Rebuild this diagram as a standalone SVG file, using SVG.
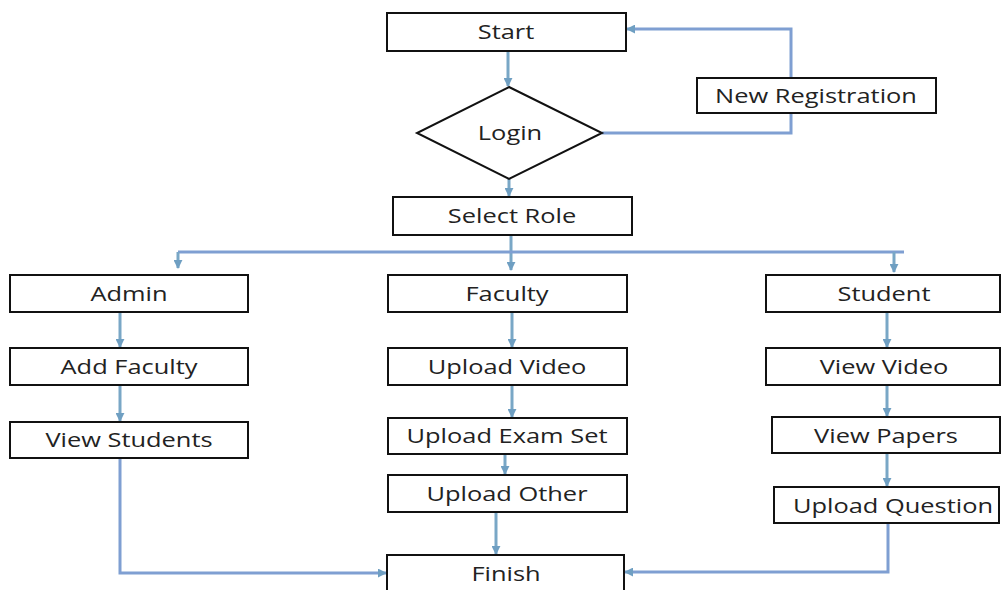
<svg xmlns="http://www.w3.org/2000/svg" width="1002" height="590" viewBox="0 0 1002 590">
<style>
.box{fill:#fff;stroke:#111;stroke-width:2}
.t{font-family:"Open Sans","Liberation Sans",sans-serif;font-size:20px;fill:#222;text-anchor:middle}
.c{fill:none;stroke:#7f9fd2;stroke-width:3}
.a{fill:none;stroke:#79a7c6;stroke-width:3}
</style>
<defs>
<marker id="ah" viewBox="0 0 10 10" refX="9" refY="5" markerWidth="9" markerHeight="9" markerUnits="userSpaceOnUse" orient="auto">
<path d="M0,0 L10,5 L0,10 z" fill="#6f9fc2"/>
</marker>
</defs>
<rect width="1002" height="590" fill="#fff"/>
<g id="connectors">
<path class="a" d="M508,51 V86" marker-end="url(#ah)"/>
<path class="c" d="M602,133 H791 V113"/>
<path class="c" d="M791,78 V29 H627" marker-end="url(#ah)"/>
<path class="a" d="M509,179 V196" marker-end="url(#ah)"/>
<path class="a" d="M511,235 V270" marker-end="url(#ah)"/>
<path class="c" d="M178,252 H904"/>
<path class="a" d="M178,252 V268" marker-end="url(#ah)"/>
<path class="a" d="M894,252 V272" marker-end="url(#ah)"/>
<path class="a" d="M120,312 V347" marker-end="url(#ah)"/>
<path class="a" d="M120,385 V421" marker-end="url(#ah)"/>
<path class="a" d="M512,312 V347" marker-end="url(#ah)"/>
<path class="a" d="M512,385 V417" marker-end="url(#ah)"/>
<path class="a" d="M505,446 V474" marker-end="url(#ah)"/>
<path class="a" d="M496,512 V554" marker-end="url(#ah)"/>
<path class="a" d="M887,312 V347" marker-end="url(#ah)"/>
<path class="a" d="M887,385 V416" marker-end="url(#ah)"/>
<path class="a" d="M887,453 V486" marker-end="url(#ah)"/>
<path class="c" d="M120,458 V573 H386" marker-end="url(#ah)"/>
<path class="c" d="M888,523 V572 H625" marker-end="url(#ah)"/>
</g>
<g id="start"><rect class="box" x="387" y="13" width="239" height="38"/><text class="t" transform="translate(506,39) scale(1.27,1)">Start</text></g>
<g id="login"><path class="box" d="M509,87 L602,133 L509,179 L417,133 Z"/><text class="t" transform="translate(510,140) scale(1.27,1)">Login</text></g>
<g id="new-registration"><rect class="box" x="697" y="78" width="239" height="35"/><text class="t" transform="translate(816,103) scale(1.27,1)">New Registration</text></g>
<g id="select-role"><rect class="box" x="393" y="197" width="239" height="38"/><text class="t" transform="translate(512,223) scale(1.27,1)">Select Role</text></g>
<g id="admin"><rect class="box" x="10" y="275" width="238" height="37"/><text class="t" transform="translate(129,301) scale(1.27,1)">Admin</text></g>
<g id="add-faculty"><rect class="box" x="10" y="348" width="238" height="37"/><text class="t" transform="translate(129,374) scale(1.27,1)">Add Faculty</text></g>
<g id="view-students"><rect class="box" x="10" y="422" width="238" height="36"/><text class="t" transform="translate(129,447) scale(1.27,1)">View Students</text></g>
<g id="faculty"><rect class="box" x="388" y="275" width="239" height="37"/><text class="t" transform="translate(507,301) scale(1.27,1)">Faculty</text></g>
<g id="upload-video"><rect class="box" x="388" y="348" width="239" height="37"/><text class="t" transform="translate(507,374) scale(1.27,1)">Upload Video</text></g>
<g id="upload-exam-set"><rect class="box" x="388" y="418" width="239" height="36"/><text class="t" transform="translate(507,443) scale(1.27,1)">Upload Exam Set</text></g>
<g id="upload-other"><rect class="box" x="388" y="475" width="239" height="37"/><text class="t" transform="translate(507,501) scale(1.27,1)">Upload Other</text></g>
<g id="finish"><rect class="box" x="387" y="555" width="237" height="40"/><text class="t" transform="translate(506,581) scale(1.27,1)">Finish</text></g>
<g id="student"><rect class="box" x="766" y="275" width="234" height="37"/><text class="t" transform="translate(884,301) scale(1.27,1)">Student</text></g>
<g id="view-video"><rect class="box" x="766" y="348" width="234" height="37"/><text class="t" transform="translate(884,374) scale(1.27,1)">View Video</text></g>
<g id="view-papers"><rect class="box" x="772" y="417" width="228" height="36"/><text class="t" transform="translate(886,443) scale(1.27,1)">View Papers</text></g>
<g id="upload-question"><rect class="box" x="774" y="487" width="225" height="36"/><text class="t" transform="translate(893,513) scale(1.27,1)">Upload Question</text></g>
</svg>
